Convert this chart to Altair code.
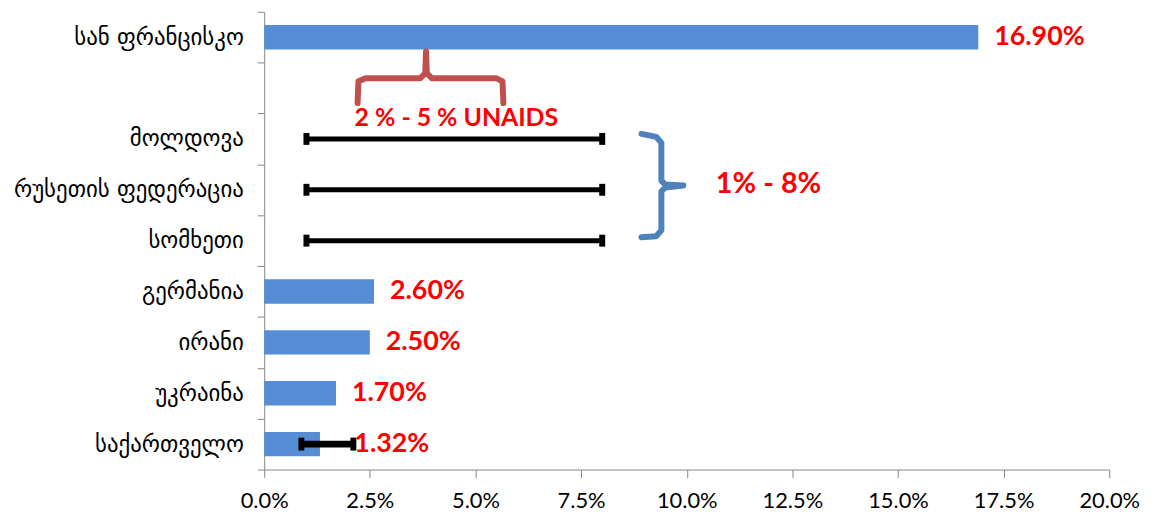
import altair as alt
import pandas as pd

# ---- data -------------------------------------------------------------
categories = ["სან ფრანცისკო", " ", "მოლდოვა", "რუსეთის ფედერაცია", "სომხეთი",
              "გერმანია", "ირანი", "უკრაინა", "საქართველო"]

bar_countries = ["სან ფრანცისკო", "გერმანია", "ირანი", "უკრაინა", "საქართველო"]
bar_values = [0.169, 0.026, 0.025, 0.017, 0.0132]

range_countries = ["მოლდოვა", "რუსეთის ფედერაცია", "სომხეთი"]
range_low = [0.01, 0.01, 0.01]
range_high = [0.08, 0.08, 0.08]

err_countries = ["საქართველო"]
err_low = [0.0088]
err_high = [0.0211]

x_ticks = [0, 0.025, 0.05, 0.075, 0.1, 0.125, 0.15, 0.175, 0.2]

# annotation braces, in data units (x = share, y = row index from top)
red_brace_x = [0.0221, 0.0223, 0.0240, 0.0369, 0.0381, 0.0383, 0.0385, 0.0397, 0.0550, 0.0564, 0.0566]
red_brace_y = [1.796, 1.367, 1.308, 1.308, 1.211, 0.781, 1.211, 1.308, 1.308, 1.367, 1.796]
blue_brace_x = [0.0893, 0.0928, 0.0940, 0.0940, 0.0949, 0.0992, 0.0949, 0.0940, 0.0940, 0.0928, 0.0893]
blue_brace_y = [2.401, 2.460, 2.577, 3.319, 3.397, 3.417, 3.456, 3.534, 4.295, 4.412, 4.432]

note_unaids = "2 % - 5 % UNAIDS"
note_unaids_x = [0.0214]
note_unaids_y = [2.09]
note_range = "1% - 8%"
note_range_x = [0.1069]
note_range_y = [3.38]

# ---- tables -----------------------------------------------------------
bars = pd.DataFrame({"country": bar_countries, "value": bar_values})
ranges = pd.DataFrame({"country": range_countries, "low": range_low, "high": range_high})
errs = pd.DataFrame({"country": err_countries, "low": err_low, "high": err_high,
                     "value": [bar_values[bar_countries.index(c)] for c in err_countries]})
range_caps = pd.DataFrame({"country": range_countries * 2, "x": range_low + range_high})
err_caps = pd.DataFrame({"country": err_countries * 2, "x": err_low + err_high})
plain_labels = bars[~bars["country"].isin(err_countries)]

braces = pd.DataFrame({
    "x": red_brace_x + blue_brace_x,
    "y": red_brace_y + blue_brace_y,
    "group": ["red"] * len(red_brace_x) + ["blue"] * len(blue_brace_x),
    "order": list(range(len(red_brace_x))) + list(range(len(blue_brace_x))),
})
notes1 = pd.DataFrame({"x": note_unaids_x, "y": note_unaids_y, "t": [note_unaids]})
notes2 = pd.DataFrame({"x": note_range_x, "y": note_range_y, "t": [note_range]})

# ---- encodings --------------------------------------------------------
AXIS_GRAY = "#868686"
x_scale = alt.Scale(domain=[0, 0.2], nice=False, zero=True)
x_axis = alt.Axis(values=x_ticks, format=".1%", title=None, grid=False,
                  domainColor=AXIS_GRAY, tickColor=AXIS_GRAY, tickSize=8,
                  labelFont="Lato", labelFontSize=22, labelColor="black",
                  labelPadding=13, labelFlush=False)
y_scale = alt.Scale(domain=categories, paddingInner=0, paddingOuter=0)
y_axis = alt.Axis(title=None, tickBand="extent", domainColor=AXIS_GRAY,
                  tickColor=AXIS_GRAY, tickSize=7, labelPadding=14,
                  labelFont="DejaVu Sans", labelFontSize=23, labelColor="black",
                  labelLimit=400)


def Y():
    return alt.Y("country:N", scale=y_scale, axis=y_axis, sort=categories)


bar_layer = alt.Chart(bars).mark_bar(color="#558ED5", height=alt.RelativeBandSize(0.48)).encode(
    x=alt.X("value:Q", scale=x_scale, axis=x_axis, title=None), y=Y())

range_rules = alt.Chart(ranges).mark_rule(color="black", strokeWidth=5).encode(
    x=alt.X("low:Q", title=None), x2="high:Q", y=Y())
range_ticks = alt.Chart(range_caps).mark_tick(color="black", thickness=6, size=12, opacity=1).encode(
    x=alt.X("x:Q", title=None), y=Y())

err_rules = alt.Chart(errs).mark_rule(color="black", strokeWidth=7).encode(
    x=alt.X("low:Q", title=None), x2="high:Q", y=Y())
err_ticks = alt.Chart(err_caps).mark_tick(color="black", thickness=6, size=13, opacity=1).encode(
    x=alt.X("x:Q", title=None), y=Y())

label_style = dict(align="left", baseline="middle", font="Lato", fontSize=27,
                   fontWeight="bold", color="#FF0000")
labels_plain = alt.Chart(plain_labels).mark_text(dx=16, **label_style).encode(
    x=alt.X("value:Q", title=None), y=Y(), text=alt.Text("value:Q", format=".2%"))
labels_err = alt.Chart(errs).mark_text(dx=1, **label_style).encode(
    x=alt.X("high:Q", title=None), y=Y(), text=alt.Text("value:Q", format=".2%"))

nominal = alt.layer(bar_layer, range_rules, range_ticks, err_rules, err_ticks,
                    labels_plain, labels_err)

yq = alt.Scale(domain=[0, 9], reverse=True, nice=False, zero=False)
brace_layer = alt.Chart(braces).mark_line(strokeWidth=6, strokeCap="round", strokeJoin="round").encode(
    x=alt.X("x:Q", title=None),
    y=alt.Y("y:Q", scale=yq, axis=None),
    color=alt.Color("group:N", scale=alt.Scale(domain=["red", "blue"], range=["#C0504D", "#4F81BD"]),
                    legend=None),
    detail="group:N",
    order="order:Q",
)
note1_layer = alt.Chart(notes1).mark_text(align="left", baseline="middle", font="Lato", fontSize=25,
                                          fontWeight="bold", color="#FF0000").encode(
    x=alt.X("x:Q", title=None), y=alt.Y("y:Q", scale=yq, axis=None), text="t:N")
note2_layer = alt.Chart(notes2).mark_text(align="left", baseline="middle", font="Lato", fontSize=29,
                                          fontWeight="bold", color="#FF0000").encode(
    x=alt.X("x:Q", title=None), y=alt.Y("y:Q", scale=yq, axis=None), text="t:N")

quant = alt.layer(brace_layer, note1_layer, note2_layer)

chart = alt.layer(nominal, quant).resolve_scale(y="independent").properties(
    width=851, height=461,
    autosize=alt.AutoSizeParams(type="none"),
    padding={"left": 258, "top": 2, "right": 35, "bottom": 44},
    background="white",
).configure_view(stroke=None)

chart.save("out.html", embed_options={"renderer": "svg", "actions": False})
